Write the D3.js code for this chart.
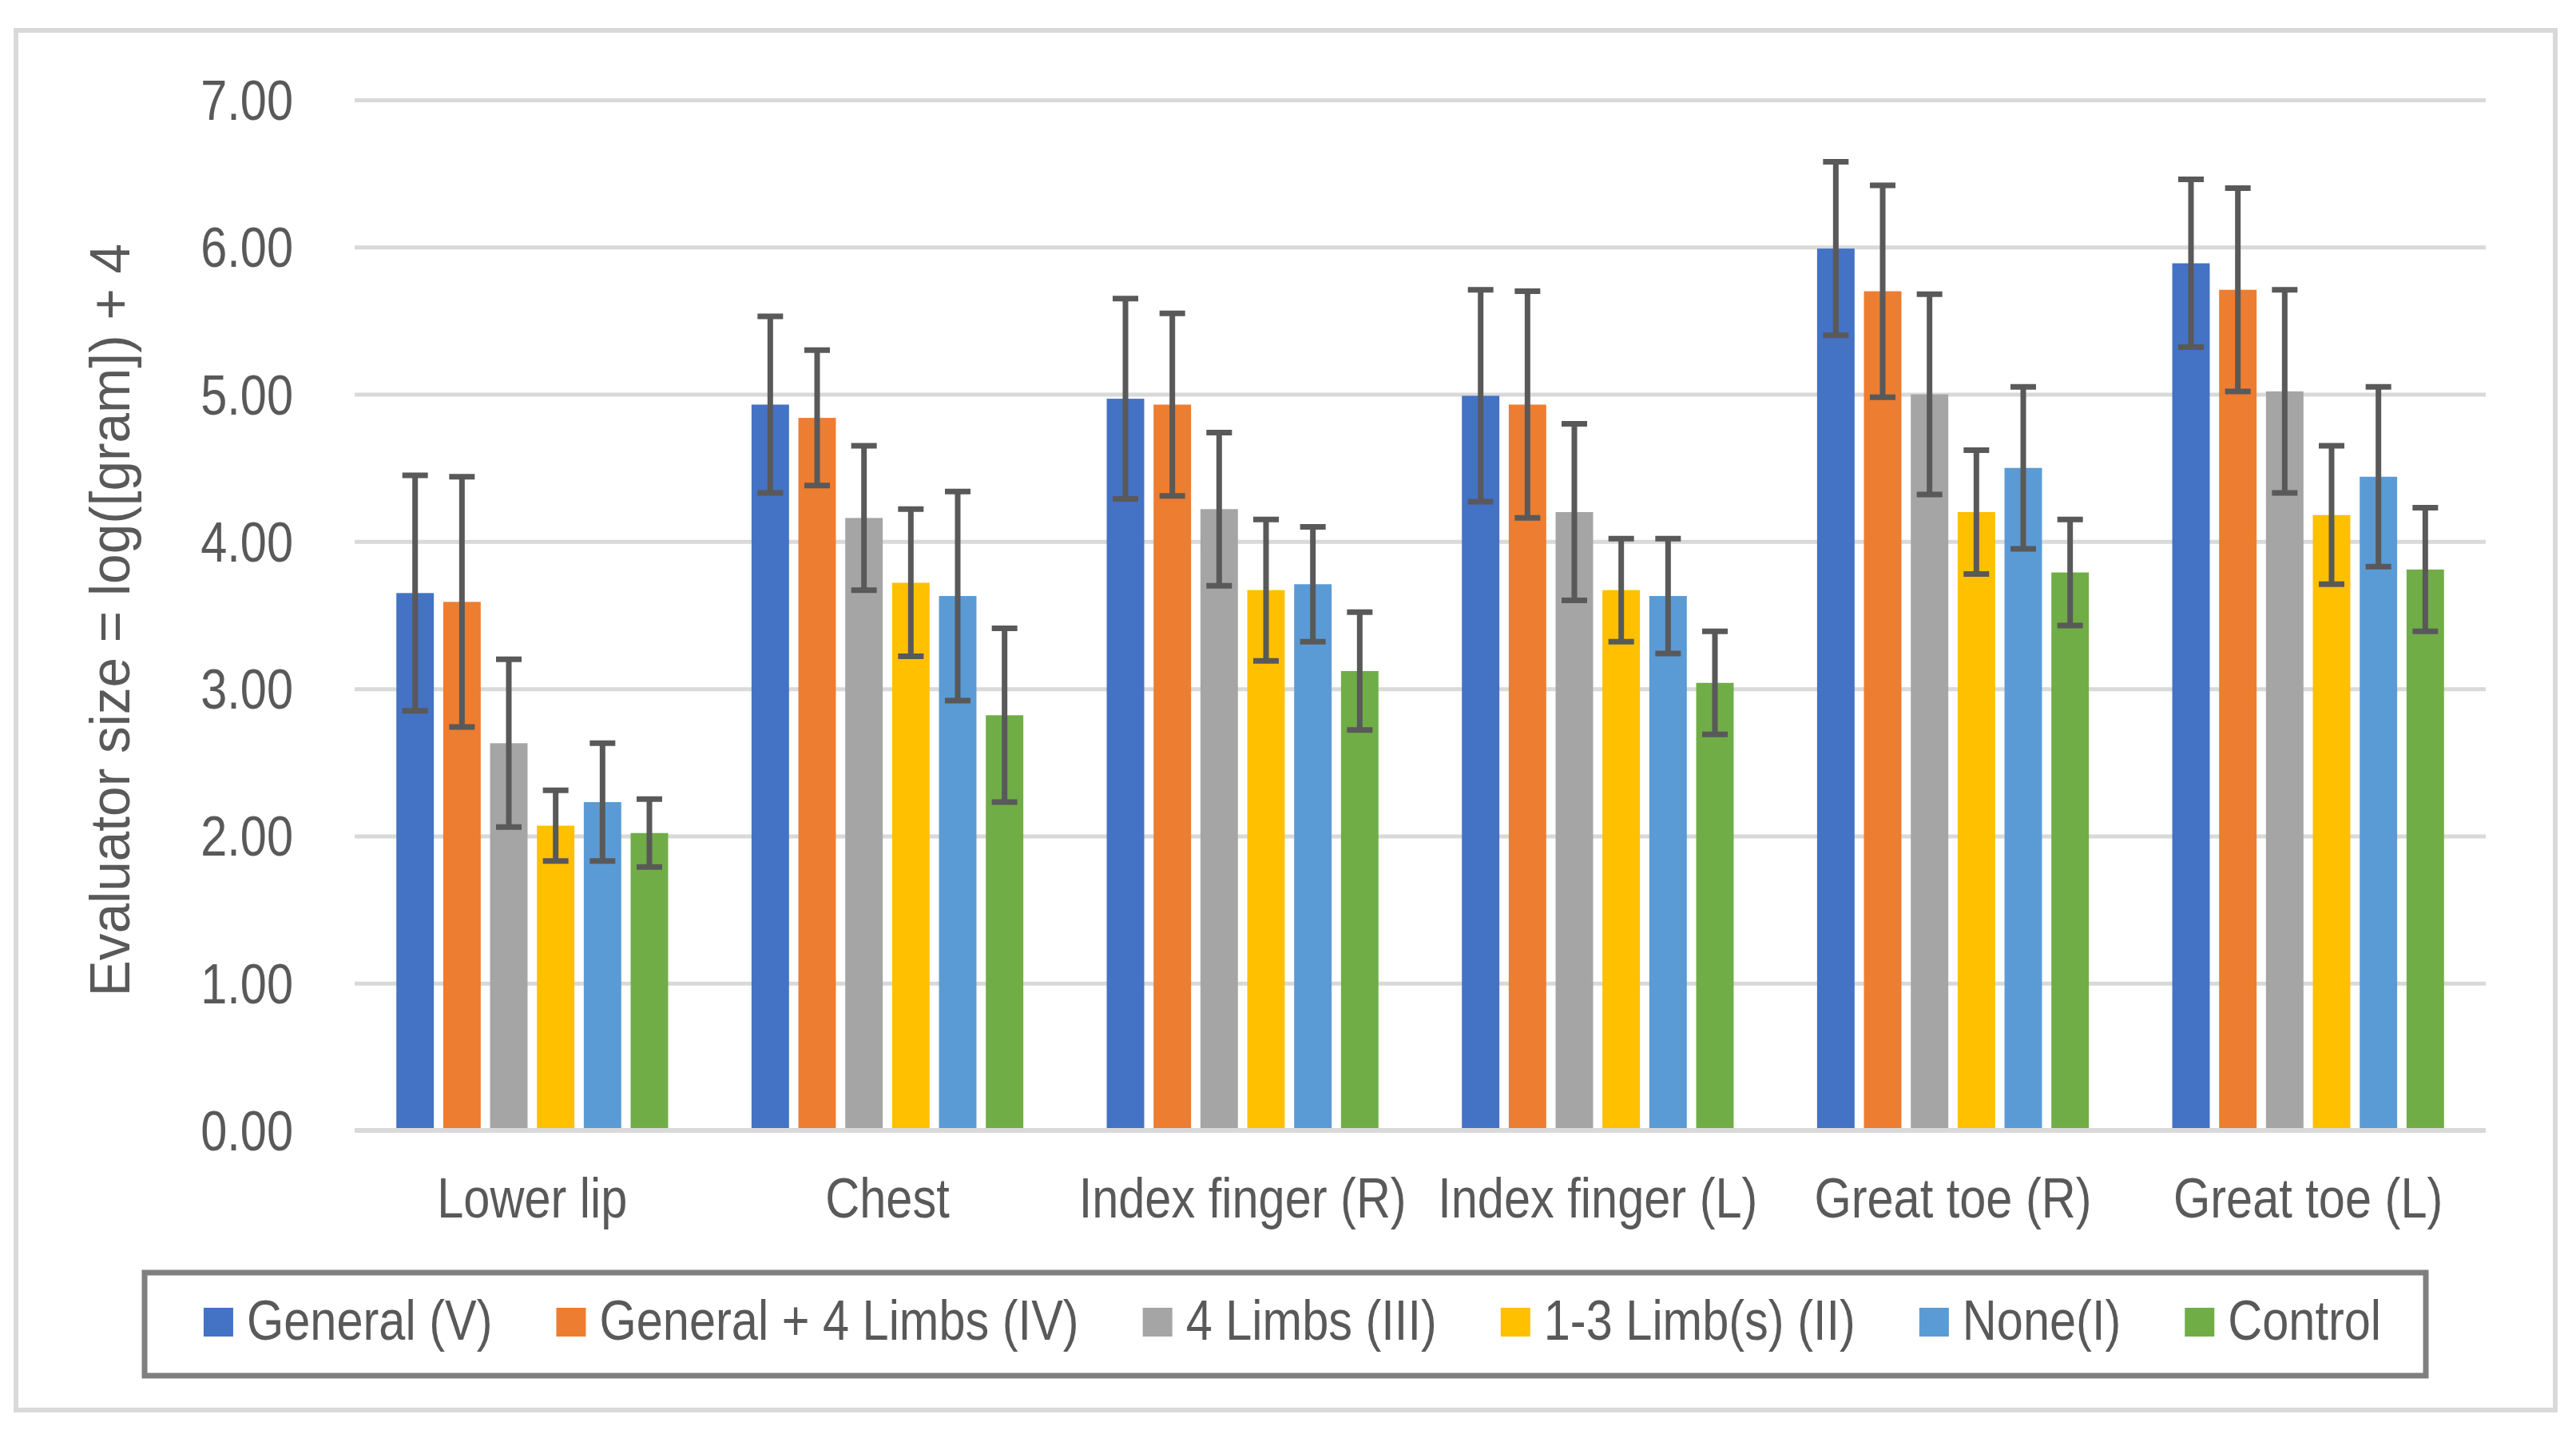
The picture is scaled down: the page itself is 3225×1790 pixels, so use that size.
<!DOCTYPE html>
<html>
<head>
<meta charset="utf-8">
<script src="https://cdn.jsdelivr.net/npm/d3@7"></script>
<style>
  body { margin: 0; background: #fff; }
  text { font-family: "Liberation Sans", Arial, sans-serif; fill: #595959; }
</style>
</head>
<body>
<script>
// chart data
var categories = ["Lower lip", "Chest", "Index finger (R)", "Index finger (L)", "Great toe (R)", "Great toe (L)"];
var seriesNames = ["General (V)", "General + 4 Limbs (IV)", "4 Limbs (III)", "1-3 Limb(s) (II)", "None(I)", "Control"];
var colors = ["#4472C4", "#ED7D31", "#A5A5A5", "#FFC000", "#5B9BD5", "#70AD47"];

var generalV   = [3.65, 4.93, 4.97, 4.99, 5.99, 5.89];
var general4   = [3.59, 4.84, 4.93, 4.93, 5.70, 5.71];
var limbs4     = [2.63, 4.16, 4.22, 4.20, 5.00, 5.02];
var limbs13    = [2.07, 3.72, 3.67, 3.67, 4.20, 4.18];
var noneI      = [2.23, 3.63, 3.71, 3.63, 4.50, 4.44];
var control    = [2.02, 2.82, 3.12, 3.04, 3.79, 3.81];

var errGeneralV = [0.80, 0.60, 0.68, 0.72, 0.59, 0.57];
var errGeneral4 = [0.85, 0.46, 0.62, 0.77, 0.72, 0.69];
var errLimbs4   = [0.57, 0.49, 0.52, 0.60, 0.68, 0.69];
var errLimbs13  = [0.24, 0.50, 0.48, 0.35, 0.42, 0.47];
var errNoneI    = [0.40, 0.71, 0.39, 0.39, 0.55, 0.61];
var errControl  = [0.23, 0.59, 0.40, 0.35, 0.36, 0.42];

var yTicks = [0, 1, 2, 3, 4, 5, 6, 7];
var yTitle = "Evaluator size = log([gram]) + 4";

var values = [generalV, general4, limbs4, limbs13, noneI, control];
var errors = [errGeneralV, errGeneral4, errLimbs4, errLimbs13, errNoneI, errControl];

var width = 3225;
var height = 1790;
var fontSize = 70;
var left = 444, right = 3112;

// squeeze texts horizontally to mimic the narrow face of the original
function narrow(sel, k) {
	k = k || 0.85;
	sel.each(function () {
		var w = this.getComputedTextLength();
		d3.select(this)
			.attr("textLength", w * k)
			.attr("lengthAdjust", "spacingAndGlyphs");
	});
}

var svg = d3.select("body")
	.append("svg")
	.attr("width", width)
	.attr("height", height);

// outer frame
svg.append("rect")
	.attr("x", 20).attr("y", 38)
	.attr("width", 3179).attr("height", 1727)
	.attr("fill", "#fff")
	.attr("stroke", "#d9d9d9")
	.attr("stroke-width", 6);

var x0 = d3.scaleBand().domain(categories).range([left, right]).paddingInner(0).paddingOuter(0);
var x1 = d3.scaleBand().domain(d3.range(seriesNames.length)).range([0, x0.bandwidth()])
	.paddingInner(0.2).paddingOuter(0.89);
var y = d3.scaleLinear().domain([0, 7]).range([1415, 125]);

// gridlines + y labels
var yAxis = d3.axisLeft(y).tickValues(yTicks).tickFormat(d3.format(".2f"))
	.tickSize(-(right - left)).tickPadding(77);
var gy = svg.append("g").attr("transform", "translate(" + left + ",0)").call(yAxis);
gy.attr("font-family", null).attr("font-size", null);
gy.select(".domain").remove();
gy.selectAll(".tick line").attr("stroke", "#d9d9d9").attr("stroke-width", 5);
gy.selectAll(".tick text")
	.attr("font-size", fontSize)
	.attr("dy", "0.35em")
	.attr("fill", "#595959")
	.call(narrow);

// bars
var groups = svg.append("g").selectAll("g")
	.data(categories)
	.enter()
	.append("g")
	.attr("transform", function (d) { return "translate(" + x0(d) + ",0)"; });

groups.selectAll("rect")
	.data(function (d, ci) { return values.map(function (s, si) { return { si: si, v: s[ci], e: errors[si][ci] }; }); })
	.enter()
	.append("rect")
	.attr("x", function (d) { return x1(d.si); })
	.attr("y", function (d) { return y(d.v); })
	.attr("width", x1.bandwidth())
	.attr("height", function (d) { return y(0) - y(d.v); })
	.attr("fill", function (d) { return colors[d.si]; });

// zero line on top of bars
svg.append("line")
	.attr("x1", left).attr("x2", right)
	.attr("y1", y(0)).attr("y2", y(0))
	.attr("stroke", "#d9d9d9").attr("stroke-width", 6);

// error bars
var capHalf = 16;
groups.each(function (cat, ci) {
	var g = d3.select(this);
	values.forEach(function (s, si) {
		var cx = x1(si) + x1.bandwidth() / 2;
		var hi = y(s[ci] + errors[si][ci]);
		var lo = y(s[ci] - errors[si][ci]);
		var eg = g.append("g").attr("stroke", "#595959").attr("stroke-width", 7);
		eg.append("line").attr("x1", cx).attr("x2", cx).attr("y1", hi).attr("y2", lo);
		eg.append("line").attr("x1", cx - capHalf).attr("x2", cx + capHalf).attr("y1", hi).attr("y2", hi);
		eg.append("line").attr("x1", cx - capHalf).attr("x2", cx + capHalf).attr("y1", lo).attr("y2", lo);
	});
});

// category labels
svg.append("g").selectAll("text")
	.data(categories)
	.enter()
	.append("text")
	.attr("x", function (d) { return x0(d) + x0.bandwidth() / 2; })
	.attr("y", 1524)
	.attr("text-anchor", "middle")
	.attr("font-size", fontSize)
	.text(function (d) { return d; })
	.call(narrow);

// y title
svg.append("text")
	.attr("transform", "translate(162,776) rotate(-90)")
	.attr("text-anchor", "middle")
	.attr("font-size", fontSize)
	.text(yTitle)
	.call(narrow, 0.965);

// legend
svg.append("rect")
	.attr("x", 181).attr("y", 1593)
	.attr("width", 2856).attr("height", 129)
	.attr("fill", "#fff")
	.attr("stroke", "#7f7f7f")
	.attr("stroke-width", 7);

var legend = svg.append("g");
var items = legend.selectAll("g")
	.data(seriesNames)
	.enter()
	.append("g");
items.append("rect")
	.attr("x", 0).attr("y", 1637)
	.attr("width", 37).attr("height", 36)
	.attr("fill", function (d, i) { return colors[i]; });
items.append("text")
	.attr("x", 54).attr("y", 1677)
	.attr("font-size", fontSize)
	.text(function (d) { return d; })
	.call(narrow);

var gap = 80;
var pos = 0;
var offsets = [];
items.each(function () {
	offsets.push(pos);
	var w = +d3.select(this).select("text").attr("textLength");
	pos += 54 + w + gap;
});
var total = pos - gap;
var start = 1618 - total / 2;
items.attr("transform", function (d, i) { return "translate(" + (start + offsets[i]) + ",0)"; });
</script>
</body>
</html>
